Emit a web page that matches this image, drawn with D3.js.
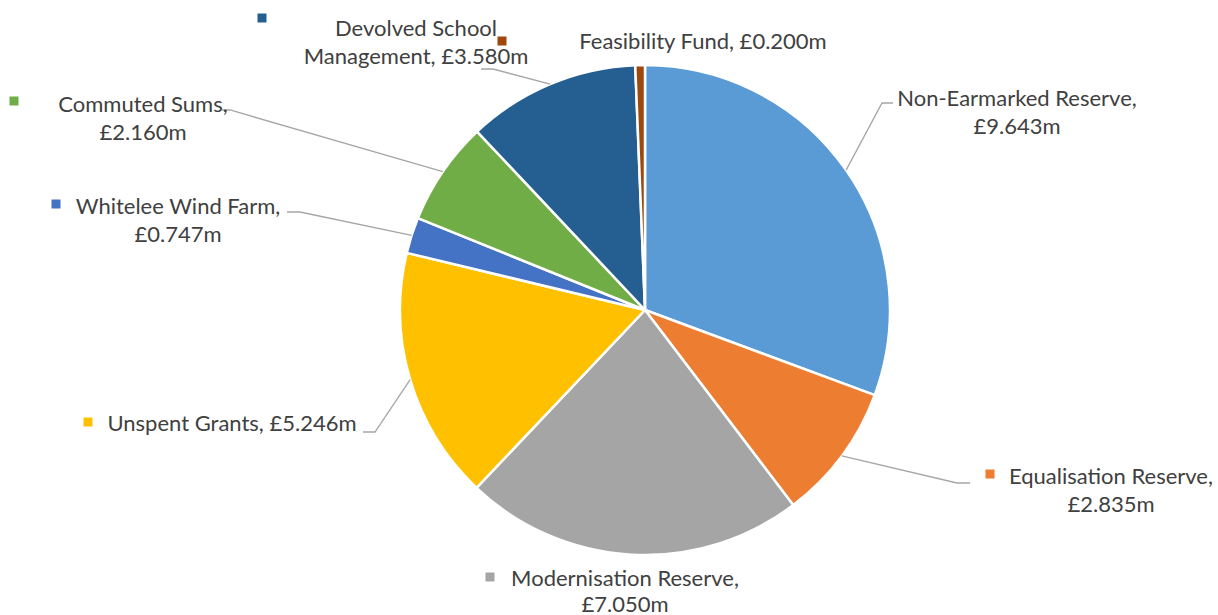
<!DOCTYPE html>
<html>
<head>
<meta charset="utf-8">
<script src="https://cdn.jsdelivr.net/npm/d3@7"></script>
<style>
  body { margin: 0; background: #fff; }
  svg text { font-family: Lato, "Open Sans", sans-serif; fill: #404040; }
</style>
</head>
<body>
<div id="chart"></div>
<script>
// datos del gráfico
const names = ["Non-Earmarked Reserve", "Equalisation Reserve", "Modernisation Reserve", "Unspent Grants",
  "Whitelee Wind Farm", "Commuted Sums", "Devolved School Management", "Feasibility Fund"];
const values = [9.643, 2.835, 7.050, 5.246, 0.747, 2.160, 3.580, 0.200];
const colors = ["#5B9BD5", "#ED7D31", "#A5A5A5", "#FFC000", "#4472C4", "#70AD47", "#255E91", "#9E480E"];

// posición de etiquetas (como en Excel): centro x, y de cada línea, marcador, codo de la línea guía
const labelLayout = [
  { br: "comma", x: 1017, y: [97, 125], marker: null, elbow: [882, 103], end: [893, 103] },
  { br: "comma", x: 1111, y: [475, 503], marker: [990, 474], elbow: [957, 483], end: [970, 483] },
  { br: "comma", x: 625, y: [577, 603], marker: [490, 577], elbow: null },
  { br: "none", x: 232, y: [422], marker: [88, 422], elbow: [375, 432], end: [363, 432] },
  { br: "comma", x: 178, y: [205, 233], marker: [56, 204], elbow: [300, 212], end: [287, 212] },
  { br: "comma", x: 143, y: [103, 131], marker: [14, 101], elbow: [230, 110], end: [222, 110] },
  { br: "School", x: 416, y: [27, 55], marker: [262, 18], elbow: [493, 69], end: [481, 69] },
  { br: "none", x: 703, y: [40], marker: [502, 41], elbow: null }
];

const width = 1218, height = 615;
const cx = 645, cy = 310, radius = 245;

const svg = d3.select("#chart").append("svg")
  .attr("width", width)
  .attr("height", height);

const data = names.map((n, i) => ({ name: n, value: values[i], color: colors[i], i: i }));

const pie = d3.pie().sort(null).value(d => d.value);
const arcs = pie(data);
const arc = d3.arc().innerRadius(0).outerRadius(radius);

const g = svg.append("g").attr("transform", `translate(${cx},${cy})`);

g.selectAll("path")
  .data(arcs)
  .enter()
  .append("path")
  .attr("d", arc)
  .attr("fill", d => d.data.color)
  .attr("stroke", "#fff")
  .attr("stroke-width", 2.5)
  .attr("stroke-linejoin", "round");

// líneas guía desde el borde del sector
arcs.forEach((a, i) => {
  const L = labelLayout[i];
  if (!L.elbow) return;
  const mid = (a.startAngle + a.endAngle) / 2;
  const sx = cx + radius * Math.sin(mid);
  const sy = cy - radius * Math.cos(mid);
  svg.append("polyline")
    .attr("points", [[sx, sy], L.elbow, L.end].map(p => p.join(",")).join(" "))
    .attr("fill", "none")
    .attr("stroke", "#A6A6A6")
    .attr("stroke-width", 1.3);
});

// etiquetas
const fmt = v => "£" + v.toFixed(3) + "m";
arcs.forEach((a, i) => {
  const L = labelLayout[i];
  const full = a.data.name + ", " + fmt(a.data.value);
  let lines;
  if (L.br === "comma") lines = [a.data.name + ",", fmt(a.data.value)];
  else if (L.br === "School") lines = ["Devolved School", "Management, " + fmt(a.data.value)];
  else lines = [full];

  lines.forEach((t, k) => {
    svg.append("text")
      .attr("x", L.x)
      .attr("y", L.y[k])
      .attr("text-anchor", "middle")
      .attr("dominant-baseline", "central")
      .style("font-size", "22px")
      .text(t);
  });

  if (L.marker) {
    svg.append("rect")
      .attr("x", L.marker[0] - 4.5)
      .attr("y", L.marker[1] - 4.5)
      .attr("width", 9)
      .attr("height", 9)
      .attr("fill", a.data.color);
  }
});
</script>
</body>
</html>
